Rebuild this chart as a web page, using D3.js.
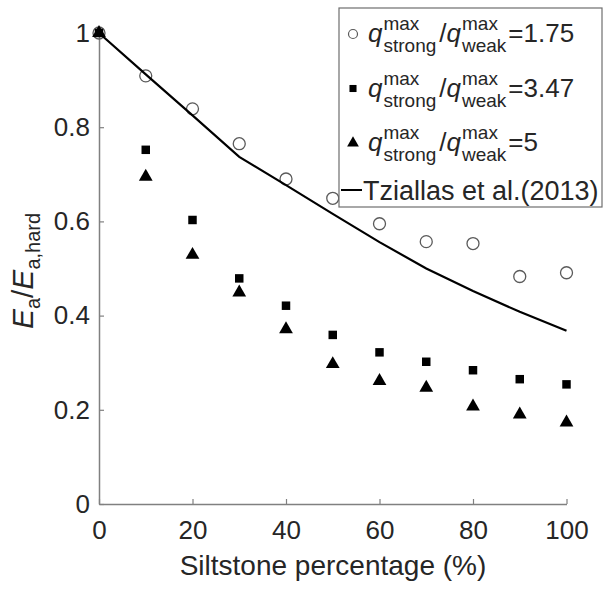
<!DOCTYPE html>
<html>
<head>
<meta charset="utf-8">
<script src="https://cdn.jsdelivr.net/npm/d3@7"></script>
<style>
  html, body { margin: 0; padding: 0; background: #fff; }
  svg { display: block; font-family: "Liberation Sans", Arial, sans-serif; }
</style>
</head>
<body>
<svg id="chart" width="603" height="591"></svg>
<script>
// Siltstone percentage (%) on the x axis
const siltstone = [0, 10, 20, 30, 40, 50, 60, 70, 80, 90, 100];
// Normalised modulus E_a / E_a,hard for each strength ratio
const ratio175 = [1.0, 0.909, 0.839, 0.765, 0.690, 0.649, 0.595, 0.557, 0.553, 0.483, 0.491];
const ratio347 = [1.0, 0.752, 0.603, 0.479, 0.421, 0.359, 0.322, 0.302, 0.284, 0.265, 0.254];
const ratio5   = [1.0, 0.695, 0.529, 0.449, 0.371, 0.297, 0.261, 0.247, 0.207, 0.190, 0.173];
// Tziallas et al. (2013) relation
const tziallas = [1.0, 0.912, 0.825, 0.737, 0.677, 0.616, 0.556, 0.500, 0.452, 0.408, 0.368];
// Legend ratios and axis ticks
const legendRatios = ["1.75", "3.47", "5"];
const referenceLabel = "Tziallas et al.(2013)";
const xTicks = [0, 20, 40, 60, 80, 100];
const yTicks = [0, 0.2, 0.4, 0.6, 0.8, 1];
const yTickLabels = ["0", "0.2", "0.4", "0.6", "0.8", "1"];

const svg = d3.select("#chart");
const axisColor = "#808080";
const textColor = "#262626";

const x = d3.scaleLinear().domain([0, 100]).range([99, 566.5]);
const y = d3.scaleLinear().domain([0, 1]).range([504, 33]);

// Axes (ticks pointing inward, no outer ticks)
const xAxis = svg.append("g")
  .attr("transform", `translate(0,${y(0)})`)
  .call(d3.axisBottom(x).tickValues(xTicks).tickSizeInner(-5).tickSizeOuter(0).tickPadding(17));
const yAxis = svg.append("g")
  .attr("transform", `translate(${x(0)},0)`)
  .call(d3.axisLeft(y).tickValues(yTicks).tickFormat((d, i) => yTickLabels[i])
        .tickSizeInner(-5).tickSizeOuter(0).tickPadding(9));

[xAxis, yAxis].forEach(a => {
  a.select(".domain").attr("stroke", axisColor).attr("stroke-width", 1.5);
  a.selectAll(".tick line").attr("stroke", axisColor).attr("stroke-width", 1.2);
  a.selectAll(".tick text").attr("fill", textColor).attr("font-size", 26)
    .attr("font-family", "Liberation Sans, Arial, sans-serif");
});

// Axis titles
svg.append("text")
  .attr("x", 333).attr("y", 575)
  .attr("text-anchor", "middle")
  .attr("font-size", 28).attr("fill", textColor)
  .text("Siltstone percentage (%)");

const ylab = svg.append("text")
  .attr("transform", "translate(33,271) rotate(-90)")
  .attr("text-anchor", "middle")
  .attr("font-size", 30).attr("fill", textColor);
ylab.append("tspan").attr("font-style", "italic").text("E");
ylab.append("tspan").attr("font-size", 20).attr("dy", 7).text("a");
ylab.append("tspan").attr("dy", -7).text("/");
ylab.append("tspan").attr("font-style", "italic").text("E");
ylab.append("tspan").attr("font-size", 20).attr("dy", 7).text("a,hard");

// Data series
const pts = (vals) => siltstone.map((s, i) => [s, vals[i]]);

svg.append("g").selectAll("circle")
  .data(pts(ratio175)).join("circle")
  .attr("cx", d => x(d[0])).attr("cy", d => y(d[1])).attr("r", 6)
  .attr("fill", "none").attr("stroke", "#5a5a5a").attr("stroke-width", 1.3);

const sq = d3.symbol().type(d3.symbolSquare).size(72);
svg.append("g").selectAll("path")
  .data(pts(ratio347)).join("path")
  .attr("d", sq).attr("transform", d => `translate(${x(d[0])},${y(d[1])})`)
  .attr("fill", "#000");

const tri = d3.symbol().type(d3.symbolTriangle).size(82);
svg.append("g").selectAll("path")
  .data(pts(ratio5)).join("path")
  .attr("d", tri).attr("transform", d => `translate(${x(d[0])},${y(d[1])})`)
  .attr("fill", "#000");

svg.append("path")
  .datum(pts(tziallas))
  .attr("fill", "none").attr("stroke", "#000").attr("stroke-width", 2.2)
  .attr("d", d3.line().x(d => x(d[0])).y(d => y(d[1])));

// Legend
const lg = svg.append("g");
lg.append("rect")
  .attr("x", 339).attr("y", 8).attr("width", 263).attr("height", 199)
  .attr("fill", "#fff").attr("stroke", "#6e6e6e").attr("stroke-width", 1.2);

function put(x0, y0, str, size, italic) {
  const t = lg.append("text").attr("x", x0).attr("y", y0)
    .attr("font-size", size).attr("fill", textColor).text(str);
  if (italic) t.attr("font-style", "italic");
  return x0 + t.node().getComputedTextLength();
}

// q^max_strong / q^max_weak = value, with stacked super- and subscripts
function ratioLabel(x0, yb, value) {
  let cx = put(x0, yb, "q", 26, true) + 1;
  let a = put(cx, yb - 12, "max", 19, false);
  let b = put(cx, yb + 10, "strong", 19, false);
  cx = Math.max(a, b) + 3;
  cx = put(cx, yb, "/", 26, false);
  cx = put(cx, yb, "q", 26, true) + 1;
  a = put(cx, yb - 12, "max", 19, false);
  b = put(cx, yb + 10, "weak", 19, false);
  cx = Math.max(a, b) + 2;
  put(cx, yb, "=" + value, 26, false);
}

const markerX = 353;
legendRatios.forEach((r, i) => {
  const yb = 42 + i * 54.5;
  const my = yb - 8;
  if (i === 0) {
    lg.append("circle").attr("cx", markerX).attr("cy", my).attr("r", 4.5)
      .attr("fill", "none").attr("stroke", "#5a5a5a").attr("stroke-width", 1.2);
  } else if (i === 1) {
    lg.append("path").attr("d", d3.symbol().type(d3.symbolSquare).size(50)())
      .attr("transform", `translate(${markerX},${my})`).attr("fill", "#000");
  } else {
    lg.append("path").attr("d", d3.symbol().type(d3.symbolTriangle).size(60)())
      .attr("transform", `translate(${markerX},${my})`).attr("fill", "#000");
  }
  ratioLabel(368, yb, r);
});

lg.append("line").attr("x1", 341).attr("x2", 362).attr("y1", 190).attr("y2", 190)
  .attr("stroke", "#000").attr("stroke-width", 2);
put(363, 200, referenceLabel, 27, false);
</script>
</body>
</html>
